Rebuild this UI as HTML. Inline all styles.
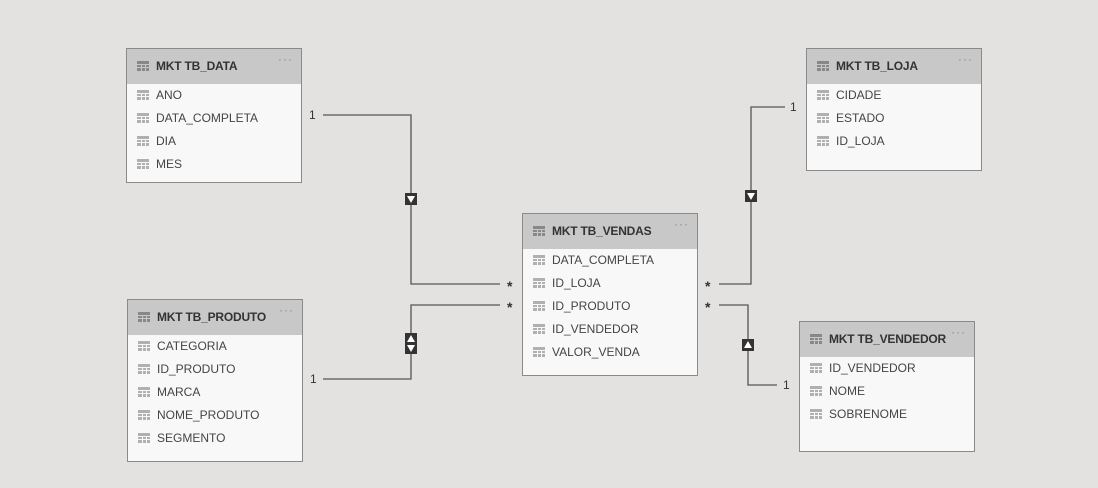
<!DOCTYPE html>
<html><head><meta charset="utf-8"><style>
body{margin:0;width:1098px;height:488px;background:#e3e2e0;position:relative;overflow:hidden;font-family:"Liberation Sans",sans-serif}
.t{position:absolute;background:#f8f8f8;border:1px solid #8a8a8a;box-sizing:border-box}
.h{height:35px;background:#c8c8c8;position:relative;font-weight:bold;font-size:12px;color:#333;line-height:35px;padding-left:29px;letter-spacing:-0.2px}
.h .d{position:absolute;right:8px;top:-7px;color:#888;font-weight:normal;font-size:12px;letter-spacing:1px}
.r{height:23px;line-height:23px;font-size:12px;color:#444;padding-left:29px;position:relative}
.i{position:absolute;left:10px;width:12px;height:10px;background:
linear-gradient(#f8f8f8,#f8f8f8) 4px 3px/1px 7px no-repeat,
linear-gradient(#f8f8f8,#f8f8f8) 8px 3px/1px 7px no-repeat,
linear-gradient(#f8f8f8,#f8f8f8) 0 3px/12px 1px no-repeat,
linear-gradient(#f8f8f8,#f8f8f8) 0 6px/12px 1px no-repeat,#b0b0b0}
.h .i{top:12px;background:
linear-gradient(#c8c8c8,#c8c8c8) 4px 3px/1px 7px no-repeat,
linear-gradient(#c8c8c8,#c8c8c8) 8px 3px/1px 7px no-repeat,
linear-gradient(#c8c8c8,#c8c8c8) 0 3px/12px 1px no-repeat,
linear-gradient(#c8c8c8,#c8c8c8) 0 6px/12px 1px no-repeat,#888}
.r .i{top:6px}
</style></head><body>
<svg width="1098" height="488" style="position:absolute;left:0;top:0">
<g fill="none" stroke="#555" stroke-width="1.3">
<path d="M323 115 H411 V284 H500"/>
<path d="M323 379 H411 V305 H500"/>
<path d="M785 107 H751 V284 H719"/>
<path d="M719 305 H748 V385 H777"/>
</g>
<g fill="#333">
<rect x="405" y="193" width="12" height="12"/>
<rect x="745" y="190" width="12" height="12"/>
<rect x="742" y="339" width="12" height="12"/>
<rect x="405" y="333" width="12" height="21"/>
</g>
<g fill="#fff">
<polygon points="407,196 415,196 411,203"/>
<polygon points="747,193 755,193 751,200"/>
<polygon points="744,348 752,348 748,341"/>
<polygon points="407,342 415,342 411,335"/>
<polygon points="407,345 415,345 411,352"/>
</g>
<g font-size="12" fill="#333" font-family="Liberation Sans">
<text x="309" y="119">1</text><text x="310" y="383">1</text>
<text x="790" y="111">1</text><text x="783" y="389">1</text>
</g>
<g font-size="14" fill="#333" font-family="Liberation Sans" font-weight="bold">
<text x="507" y="291">*</text><text x="507" y="312">*</text>
<text x="705" y="291">*</text><text x="705" y="312">*</text>
</g>
</svg>
<div class="t" style="left:126px;top:48px;width:176px;height:135px"><div class="h"><span class="i"></span>MKT TB_DATA<span class="d">···</span></div>
<div class="r"><span class="i"></span>ANO</div><div class="r"><span class="i"></span>DATA_COMPLETA</div><div class="r"><span class="i"></span>DIA</div><div class="r"><span class="i"></span>MES</div></div>
<div class="t" style="left:806px;top:48px;width:176px;height:123px"><div class="h"><span class="i"></span>MKT TB_LOJA<span class="d">···</span></div>
<div class="r"><span class="i"></span>CIDADE</div><div class="r"><span class="i"></span>ESTADO</div><div class="r"><span class="i"></span>ID_LOJA</div></div>
<div class="t" style="left:522px;top:213px;width:176px;height:163px"><div class="h"><span class="i"></span>MKT TB_VENDAS<span class="d">···</span></div>
<div class="r"><span class="i"></span>DATA_COMPLETA</div><div class="r"><span class="i"></span>ID_LOJA</div><div class="r"><span class="i"></span>ID_PRODUTO</div><div class="r"><span class="i"></span>ID_VENDEDOR</div><div class="r"><span class="i"></span>VALOR_VENDA</div></div>
<div class="t" style="left:127px;top:299px;width:176px;height:163px"><div class="h"><span class="i"></span>MKT TB_PRODUTO<span class="d">···</span></div>
<div class="r"><span class="i"></span>CATEGORIA</div><div class="r"><span class="i"></span>ID_PRODUTO</div><div class="r"><span class="i"></span>MARCA</div><div class="r"><span class="i"></span>NOME_PRODUTO</div><div class="r"><span class="i"></span>SEGMENTO</div></div>
<div class="t" style="left:799px;top:321px;width:176px;height:131px"><div class="h"><span class="i"></span>MKT TB_VENDEDOR<span class="d">···</span></div>
<div class="r"><span class="i"></span>ID_VENDEDOR</div><div class="r"><span class="i"></span>NOME</div><div class="r"><span class="i"></span>SOBRENOME</div></div>
</body></html>
